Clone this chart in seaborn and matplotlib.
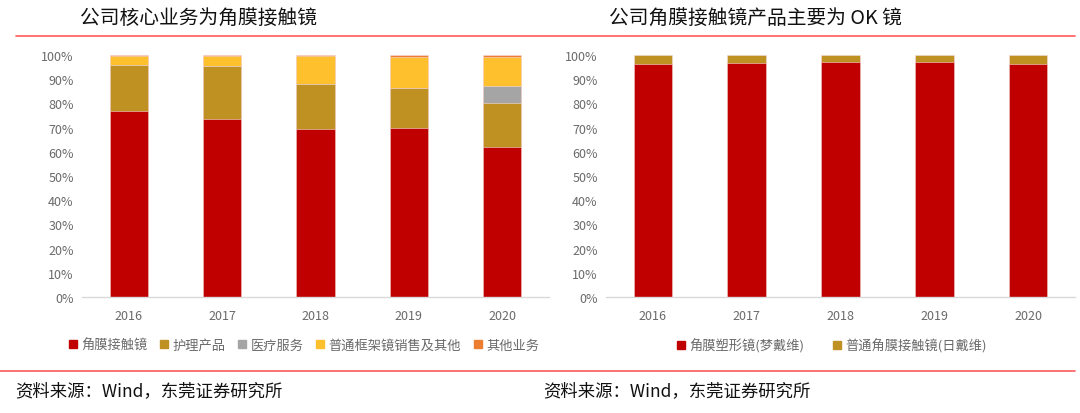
import numpy as np
import pandas as pd
import matplotlib
matplotlib.use("Agg")
import matplotlib.pyplot as plt
from matplotlib.lines import Line2D
from matplotlib.ticker import PercentFormatter
import seaborn as sns

sns.set_theme(style="white")
plt.rcParams['font.family'] = ['Noto Sans CJK SC', 'DejaVu Sans']

# data (percent of revenue)
years = ["2016", "2017", "2018", "2019", "2020"]

left_series = ["角膜接触镜", "护理产品", "医疗服务", "普通框架镜销售及其他", "其他业务"]
ortho_k_share = [77.0, 73.5, 69.5, 70.0, 62.0]
care_share = [19.0, 22.0, 18.5, 16.5, 18.0]
medical_share = [0.0, 0.0, 0.0, 0.0, 7.0]
frame_share = [3.5, 4.0, 11.7, 12.8, 12.3]
other_share = [0.5, 0.5, 0.3, 0.7, 0.7]
left_colors = ["#C00000", "#BF9022", "#A5A5A5", "#FFC02E", "#ED7D31"]

right_series = ["角膜塑形镜(梦戴维)", "普通角膜接触镜(日戴维)"]
okl_share = [96.3, 96.7, 97.3, 97.0, 96.3]
normal_share = [3.7, 3.3, 2.7, 3.0, 3.7]
right_colors = ["#C00000", "#BF9022"]

tick_color = "#6A6A6A"


def stacked(ax, parts, colors):
    cum = np.cumsum(np.array(parts), axis=0)
    # draw from top of stack down so lower pieces cover upper ones
    for i in range(len(parts) - 1, -1, -1):
        if not np.any(parts[i]):
            continue
        df = pd.DataFrame({"year": years, "value": cum[i]})
        sns.barplot(data=df, x="year", y="value", color=colors[i], width=0.41,
                    saturation=1, edgecolor="#F6DADA", linewidth=0.4, ax=ax)
    ax.set_ylim(0, 100)
    ax.set_yticks(np.arange(0, 101, 10))
    ax.yaxis.set_major_formatter(PercentFormatter(decimals=0))
    ax.set_xlabel("")
    ax.set_ylabel("")
    for s in ["top", "right", "left"]:
        ax.spines[s].set_visible(False)
    ax.spines["bottom"].set_color("#D9D9D9")
    ax.spines["bottom"].set_linewidth(1)
    ax.tick_params(axis="both", length=0, labelsize=9, colors=tick_color, pad=6)
    ax.tick_params(axis="x", pad=9)


fig = plt.figure(figsize=(10.8, 4.14), dpi=100)
ax1 = fig.add_axes([82 / 1080, 1 - 298 / 414, 467 / 1080, 242 / 414])
ax2 = fig.add_axes([606 / 1080, 1 - 298 / 414, 469 / 1080, 242 / 414])

stacked(ax1, [ortho_k_share, care_share, medical_share, frame_share, other_share], left_colors)
stacked(ax2, [okl_share, normal_share], right_colors)

# legends
def square(c):
    return Line2D([], [], marker="s", linestyle="", markersize=6, color=c)

fig.legend([square(c) for c in left_colors], left_series, loc="center",
           bbox_to_anchor=(304 / 1080, 1 - 346 / 414), ncol=5, frameon=False,
           fontsize=9.5, labelcolor=tick_color, handlelength=0.6, handletextpad=0.3,
           columnspacing=1.0)
fig.legend([square(c) for c in right_colors], right_series, loc="center",
           bbox_to_anchor=(832 / 1080, 1 - 346 / 414), ncol=2, frameon=False,
           fontsize=9.5, labelcolor=tick_color, handlelength=0.6, handletextpad=0.3,
           columnspacing=2.2)

# titles and rules
fig.text(80 / 1080, 1 - 19 / 414, "公司核心业务为角膜接触镜", fontsize=14.2,
         fontweight="medium", ha="left", va="center", color="#111111")
fig.text(609 / 1080, 1 - 19 / 414, "公司角膜接触镜产品主要为 OK 镜", fontsize=14.2,
         fontweight="medium", ha="left", va="center", color="#111111")
fig.add_artist(Line2D([16 / 1080, 1075 / 1080], [1 - 37 / 414] * 2, color="#FF5A5A", lw=1.2))
fig.add_artist(Line2D([0, 1075 / 1080], [1 - 372 / 414] * 2, color="#FF5A5A", lw=1.2))

fig.text(15 / 1080, 1 - 391 / 414, "资料来源：Wind，东莞证券研究所", fontsize=12.5,
         fontweight="medium", ha="left", va="center", color="#111111")
fig.text(543 / 1080, 1 - 391 / 414, "资料来源：Wind，东莞证券研究所", fontsize=12.5,
         fontweight="medium", ha="left", va="center", color="#111111")

fig.savefig("out.png", dpi=100)
